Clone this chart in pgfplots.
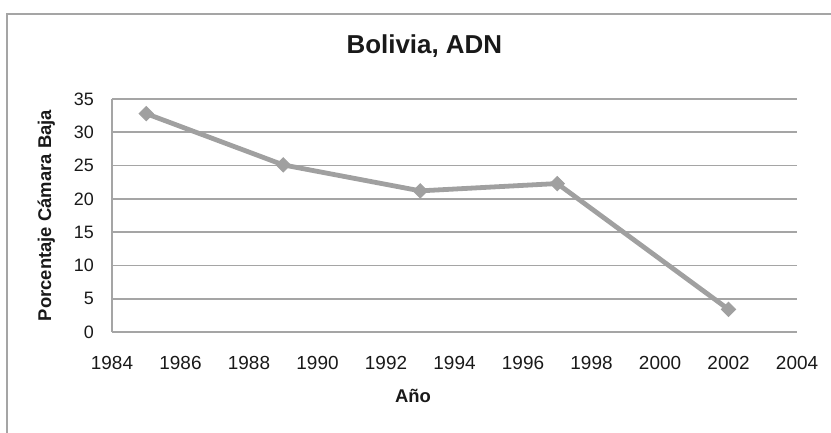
\documentclass[border=0pt]{standalone}
\usepackage{fontspec}
\setmainfont{Liberation Sans}
\usepackage{pgfplots}
\pgfplotsset{compat=1.18}
\definecolor{linegray}{RGB}{160,160,160}
\definecolor{gridgray}{RGB}{165,165,165}
\begin{document}
\begin{tikzpicture}[x=1bp,y=1bp]
\path[use as bounding box] (-112,-101) rectangle (719,332);
\draw[gridgray, line width=1.5bp] (-105,-101) -- (-105,318) -- (719,318);
\begin{axis}[
  at={(0,0)}, anchor=south west,
  scale only axis, width=685bp, height=233bp,
  xmin=1984, xmax=2004, ymin=0, ymax=35,
  xtick={1984,1986,...,2004}, ytick={0,5,...,35},
  axis lines*=left,
  axis line style={gridgray, line width=1.6bp},
  ymajorgrids, grid style={gridgray, line width=1.6bp},
  major tick length=0pt,
  /pgf/number format/1000 sep={},
  /pgf/number format/assume math mode=true,
  tick label style={text=black!90, inner sep=0pt},
  xticklabel style={font=\fontsize{19}{22}\selectfont, anchor=base, yshift=-37.5bp},
  yticklabel style={font=\fontsize{18}{21}\selectfont, anchor=east, xshift=-18bp},
  title={Bolivia, ADN},
  title style={at={(axis description cs:0.456,1.168)}, anchor=base, font=\bfseries\fontsize{26}{30}\selectfont, text=black!90},
  xlabel={Año},
  xlabel style={at={(axis description cs:0.4394,-0.3047)}, anchor=base, font=\bfseries\fontsize{18.5}{21}\selectfont, text=black!90},
  ylabel={Porcentaje Cámara Baja},
  ylabel style={at={(axis description cs:-0.089,0.5)}, anchor=base, rotate=0, font=\bfseries\fontsize{18.5}{21}\selectfont, text=black!90},
  clip=false,
]
\addplot[linegray, line width=4.8bp, mark=square*, mark size=5bp,
  mark options={rotate=45, fill=linegray, draw=linegray, line width=1bp}]
  coordinates {(1985,32.8) (1989,25.1) (1993,21.2) (1997,22.3) (2002,3.4)};
\end{axis}
\end{tikzpicture}
\end{document}
